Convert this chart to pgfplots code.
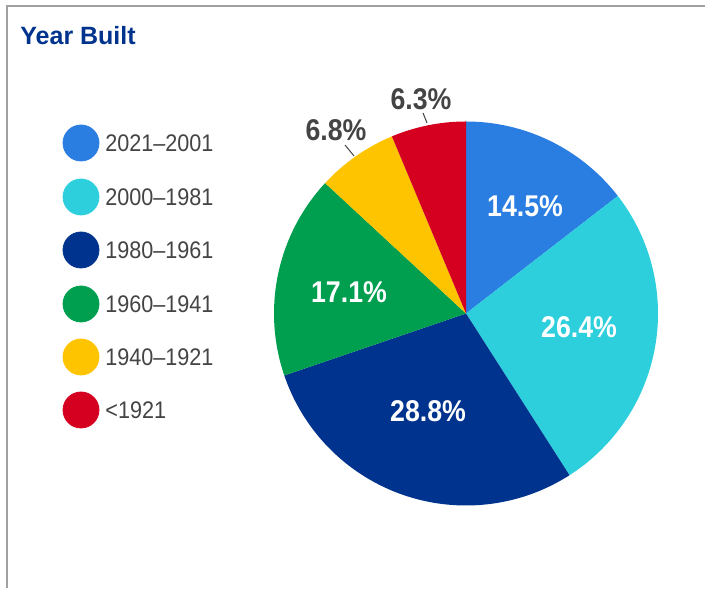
\documentclass[border=0pt]{standalone}
\usepackage{pgfplots}
\pgfplotsset{compat=1.18}
\usepackage{pgfplotstable}
\usepackage{fontspec}
\setmainfont{Liberation Sans}
\newfontfamily\legfont[FakeStretch=0.9]{Liberation Sans}
\newfontfamily\labfont[FakeStretch=0.89]{Liberation Sans}
\definecolor{pie0}{HTML}{2A7DE1}
\definecolor{pie1}{HTML}{2ECFDD}
\definecolor{pie2}{HTML}{00338D}
\definecolor{pie3}{HTML}{009E4F}
\definecolor{pie4}{HTML}{FFC400}
\definecolor{pie5}{HTML}{D50020}
\definecolor{titleblue}{HTML}{00338D}
\definecolor{txtgray}{HTML}{444444}
\definecolor{bordergray}{HTML}{A0A0A0}
\pgfplotstableread{
v label
14.5 {2021–2001}
26.4 {2000–1981}
28.8 {1980–1961}
17.1 {1960–1941}
6.8 {1940–1921}
6.3 {<1921}
}\pietable
\newcommand\pieS[1]{\csname pieS#1\endcsname}
\newcommand\pieE[1]{\csname pieE#1\endcsname}
\begin{document}
\begin{tikzpicture}
\path[use as bounding box] (0,0) rectangle (352.5pt,294pt);
% total
\gdef\pietot{0}
\foreach \i in {0,...,5}{%
  \pgfplotstablegetelem{\i}{v}\of\pietable
  \pgfmathsetmacro\t{\pietot+\pgfplotsretval}%
  \xdef\pietot{\t}%
}
\gdef\cum{0}
\foreach \i in {0,...,5}{%
  \pgfplotstablegetelem{\i}{v}\of\pietable
  \pgfmathsetmacro\s{90-\cum/\pietot*360}%
  \pgfmathsetmacro\nc{\cum+\pgfplotsretval}%
  \pgfmathsetmacro\e{90-\nc/\pietot*360}%
  \expandafter\xdef\csname pieS\i\endcsname{\s}%
  \expandafter\xdef\csname pieE\i\endcsname{\e}%
  \xdef\cum{\nc}%
}
\begin{axis}[
  at={(0,0)}, anchor=origin,
  x=0.5pt, y=0.5pt,
  xmin=0, xmax=705, ymin=0, ymax=588,
  hide axis, clip=false,
]
% border
\draw[bordergray, line width=1pt] (axis cs:7,0) -- (axis cs:7,582) -- (axis cs:705,582);
% title
\node[anchor=base west, text=titleblue, font=\fontsize{12.5}{14}\selectfont\bfseries, inner sep=0pt] at (axis cs:20,543) {Year Built};
% pie slices
\pgfplotsinvokeforeach{0,...,5}{
  \fill[pie#1] (axis cs:466,274.5) -- ++(\pieS{#1}:96pt) arc[start angle=\pieS{#1}, end angle=\pieE{#1}, radius=96pt] -- cycle;
}
% legend markers
\addplot[only marks, mark=*, mark size=9pt, mark options={draw=pie0, fill=pie0}] coordinates {(81,445)};
\addplot[only marks, mark=*, mark size=9pt, mark options={draw=pie1, fill=pie1}] coordinates {(81,391)};
\addplot[only marks, mark=*, mark size=9pt, mark options={draw=pie2, fill=pie2}] coordinates {(81,338)};
\addplot[only marks, mark=*, mark size=9pt, mark options={draw=pie3, fill=pie3}] coordinates {(81,284)};
\addplot[only marks, mark=*, mark size=9pt, mark options={draw=pie4, fill=pie4}] coordinates {(81,231)};
\addplot[only marks, mark=*, mark size=9pt, mark options={draw=pie5, fill=pie5}] coordinates {(81,178)};
\begin{scope}[every node/.style={anchor=west, inner sep=0pt, text=txtgray, font=\legfont\fontsize{12}{14}\selectfont}]
\node at (axis cs:105,445) {2021–2001};
\node at (axis cs:105,391) {2000–1981};
\node at (axis cs:105,338) {1980–1961};
\node at (axis cs:105,284) {1960–1941};
\node at (axis cs:105,231) {1940–1921};
\node at (axis cs:105,178) {<1921};
\end{scope}
% slice labels
\begin{scope}[every node/.style={inner sep=0pt, font=\labfont\fontsize{15}{17}\selectfont\bfseries}]
\node[text=white] at (axis cs:525,382) {14.5\%};
\node[text=white] at (axis cs:579,261) {26.4\%};
\node[text=white] at (axis cs:428,177) {28.8\%};
\node[text=white] at (axis cs:349,296) {17.1\%};
\node[text=txtgray] at (axis cs:336,458) {6.8\%};
\node[text=txtgray] at (axis cs:421,489) {6.3\%};
\end{scope}
\draw[txtgray, line width=0.5pt] (axis cs:345,443) -- (axis cs:354,432);
\draw[txtgray, line width=0.5pt] (axis cs:423,475) -- (axis cs:427,465);
\end{axis}
\end{tikzpicture}
\end{document}
